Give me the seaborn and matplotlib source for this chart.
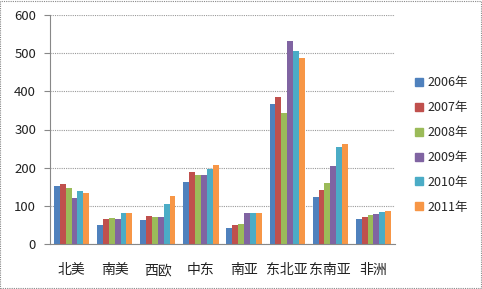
import matplotlib
matplotlib.use("Agg")
import matplotlib.pyplot as plt
import seaborn as sns
import pandas as pd
import numpy as np
from matplotlib.patches import Rectangle
from matplotlib.lines import Line2D

regions = ["北美", "南美", "西欧", "中东", "南亚", "东北亚", "东南亚", "非洲"]
years = ["2006年", "2007年", "2008年", "2009年", "2010年", "2011年"]
v2006 = [153, 51, 62, 162, 42, 366, 124, 65]
v2007 = [158, 65, 73, 189, 50, 386, 142, 70]
v2008 = [146, 68, 72, 181, 52, 344, 161, 77]
v2009 = [120, 66, 72, 181, 82, 532, 204, 79]
v2010 = [140, 82, 106, 196, 80, 506, 253, 84]
v2011 = [133, 80, 126, 208, 82, 488, 262, 87]
yticks = [0, 100, 200, 300, 400, 500, 600]
colors = ["#4F81BD", "#C0504D", "#9BBB59", "#8064A2", "#4BACC6", "#F79646"]

series = [v2006, v2007, v2008, v2009, v2010, v2011]
rows = []
for y, vals in zip(years, series):
    for r, v in zip(regions, vals):
        rows.append({"region": r, "year": y, "value": v})
df = pd.DataFrame(rows)

sns.set_style("white")
plt.rcParams["font.family"] = ["Noto Sans CJK SC", "DejaVu Sans"]

fig = plt.figure(figsize=(4.82, 2.89), dpi=100)
ax = fig.add_axes([50 / 482, 45 / 289, 345 / 482, 229 / 289])

sns.barplot(data=df, x="region", y="value", hue="year", order=regions,
            hue_order=years, palette=colors, width=0.82, gap=0,
            saturation=1, ax=ax, legend=False, linewidth=0)

ax.set_ylim(0, 600)
ax.set_xlim(-0.5, len(regions) - 0.5)
ax.set_yticks(yticks)
ax.set_yticklabels([str(t) for t in yticks], fontsize=9.5, color="#222222")
ax.yaxis.grid(True, color="#9a9a9a", linestyle=(0, (1, 1)), linewidth=0.8)
ax.set_axisbelow(True)
ax.set_xlabel("")
ax.set_ylabel("")

ax.set_xticks(range(len(regions)))
ax.set_xticklabels(regions, fontsize=10, color="#222222")
ax.tick_params(axis="x", which="major", length=0, pad=14)
ax.set_xticks(np.arange(-0.5, len(regions) + 0.5, 1), minor=True)
ax.tick_params(axis="x", which="minor", length=4, color="#888888", width=0.8)
ax.tick_params(axis="y", which="major", length=4, color="#888888", width=0.8, pad=6, left=True)

for side in ["top", "right"]:
    ax.spines[side].set_visible(False)
for side in ["left", "bottom"]:
    ax.spines[side].set_color("#888888")
    ax.spines[side].set_linewidth(0.8)

handles = [Line2D([0], [0], marker="s", linestyle="none", markersize=6,
                  markerfacecolor=c, markeredgecolor=c) for c in colors]
fig.legend(handles, years, loc="center left", bbox_to_anchor=(408 / 482, (289 - 145) / 289),
           frameon=False, fontsize=9, handlelength=0.8, handletextpad=0.25,
           labelspacing=0.95, borderpad=0)

fig.patches.append(Rectangle((0.001, 0.002), 0.997, 0.995, transform=fig.transFigure,
                             fill=False, edgecolor="#888888", linestyle=(0, (1, 1)),
                             linewidth=0.8))

fig.savefig("out.png", dpi=100)
